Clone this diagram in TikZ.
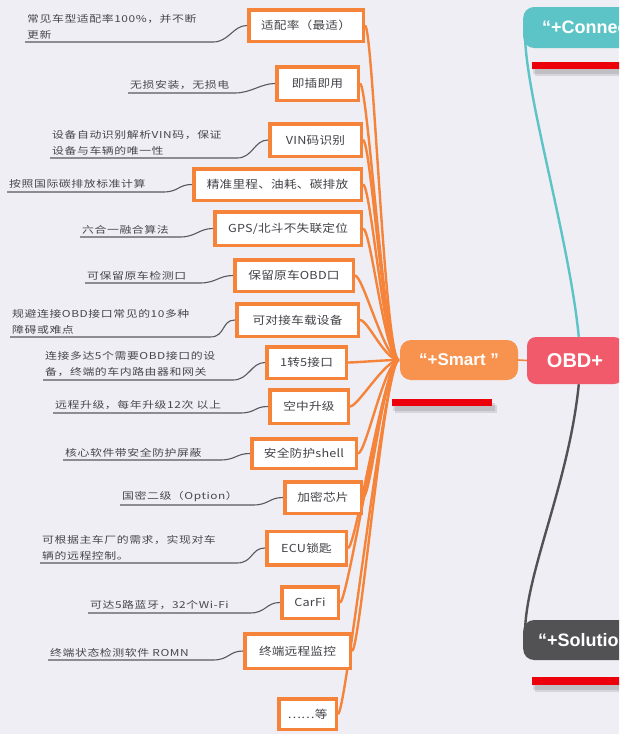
\documentclass[tikz,border=0pt]{standalone}
\usepackage{fontspec}
\setsansfont{Liberation Sans}
\newfontfamily\cjkbox[FakeStretch=1.15,LetterSpace=2]{Noto Sans CJK SC}
\newfontfamily\cjkdesc[FakeStretch=1.25,LetterSpace=6]{Noto Sans CJK SC}
\newfontfamily\ttlfont{Liberation Sans}
\definecolor{bgc}{RGB}{238,238,244}
\definecolor{obor}{RGB}{245,132,58}
\definecolor{smartc}{RGB}{247,147,78}
\definecolor{obdc}{RGB}{240,90,106}
\definecolor{tealc}{RGB}{92,196,198}
\definecolor{darkc}{RGB}{82,82,84}
\definecolor{redbar}{RGB}{236,0,12}
\definecolor{desctxt}{RGB}{70,70,76}
\definecolor{boxtxt}{RGB}{66,66,72}
\definecolor{ulc}{RGB}{88,88,96}
\pgfdeclarelayer{back}
\pgfdeclarelayer{conn}
\pgfsetlayers{back,conn,main}
\tikzset{
  box/.style={draw=obor, line width=3.5pt, fill=white, text=boxtxt, inner sep=0pt,
    font=\cjkbox\fontsize{11}{13}\selectfont},
  desc/.style={anchor=south west, align=left, text=desctxt, inner xsep=2pt, inner ysep=3pt,
    font=\cjkdesc\fontsize{9.5}{16}\selectfont},
  uline/.style={draw=ulc, line width=1.1pt},
  oline/.style={draw=obor, line width=2.4pt},
  ttl/.style={text=white, inner sep=0pt, font=\ttlfont\bfseries},
  rbar/.style={fill=redbar, draw=none},
  rshadow/.style={fill=black, opacity=0.10, draw=none}
}
\begin{document}
\begin{tikzpicture}[x=1pt,y=-1pt]
\useasboundingbox (0,0) rectangle (619,734);
\clip (0,0) rectangle (619,734);
\begin{pgfonlayer}{back}
\fill[bgc] (0,0) rectangle (619,734);
\end{pgfonlayer}

% ---- option boxes
\node[box, minimum width=114.5, minimum height=31.5] (b1) at (306,25.5) {适配率（最适）};
\node[box, minimum width=81.5, minimum height=33.5] (b2) at (317.5,83.5) {即插即用};
\node[box, minimum width=91.5, minimum height=32.5] (b3) at (315.5,140) {VIN码识别};
\node[box, minimum width=167.5, minimum height=31.5] (b4) at (277.5,184.5) {精准里程、油耗、碳排放};
\node[box, minimum width=146.5, minimum height=33.5] (b5) at (288,228.5) {GPS/北斗不失联定位};
\node[box, minimum width=118.5, minimum height=31.5] (b6) at (294,275.5) {保留原车OBD口};
\node[box, minimum width=121.5, minimum height=32.5] (b7) at (297.5,320) {可对接车载设备};
\node[box, minimum width=79.5, minimum height=31.5] (b8) at (306.5,362.5) {1转5接口};
\node[box, minimum width=78.5, minimum height=33.5] (b9) at (309,406.5) {空中升级};
\node[box, minimum width=104.5, minimum height=29.5] (b10) at (304,453.5) {安全防护shell};
\node[box, minimum width=76.5, minimum height=31.5] (b11) at (323,497.5) {加密芯片};
\node[box, minimum width=79.5, minimum height=33.5] (b12) at (306.5,548) {ECU锁匙};
\node[box, minimum width=56.5, minimum height=31.5] (b13) at (310,602.5) {CarFi};
\node[box, minimum width=105.5, minimum height=34.5] (b14) at (297.5,651) {终端远程监控};
\node[box, minimum width=57.5, minimum height=30.5] (b15) at (307.5,714) {……等};

% ---- descriptions
\node[desc] (d1) at (25,42) {常见车型适配率100\%，并不断\\更新};
\node[desc] (d2) at (128,93) {无损安装，无损电};
\node[desc] (d3) at (50,158) {设备自动识别解析VIN码，保证\\设备与车辆的唯一性};
\node[desc] (d4) at (7,192) {按照国际碳排放标准计算};
\node[desc] (d5) at (80,237) {六合一融合算法};
\node[desc] (d6) at (85,283) {可保留原车检测口};
\node[desc] (d7) at (10,337) {规避连接OBD接口常见的10多种\\障碍或难点};
\node[desc] (d8) at (43,380) {连接多达5个需要OBD接口的设\\备，终端的车内路由器和网关};
\node[desc] (d9) at (53,413) {远程升级，每年升级12次 以上};
\node[desc] (d10) at (63,460) {核心软件带安全防护屏蔽};
\node[desc] (d11) at (120,505) {国密二级（Option）};
\node[desc] (d12) at (40,563) {可根据主车厂的需求，实现对车\\辆的远程控制。};
\node[desc] (d13) at (88,613) {可达5路蓝牙，32个Wi-Fi};
\node[desc] (d14) at (48,660) {终端状态检测软件 ROMN};

\coordinate (u1) at (213,42);
\coordinate (u2) at (235,93);
\coordinate (u3) at (237,158);
\coordinate (u4) at (163,192);
\coordinate (u5) at (180,237);
\coordinate (u6) at (200,283);
\coordinate (u7) at (210,337);
\coordinate (u8) at (233,380);
\coordinate (u9) at (240,413);
\coordinate (u10) at (220,460);
\coordinate (u11) at (253,505);
\coordinate (u12) at (237,563);
\coordinate (u13) at (250,613);
\coordinate (u14) at (213,660);

% ---- main topics
\node[ttl, fill=smartc, rounded corners=11pt, minimum width=118, minimum height=40,
  font=\ttlfont\bfseries\fontsize{17}{19}\selectfont] (smart) at (459,360) {“+Smart ”};
\node[ttl, fill=obdc, rounded corners=9pt, minimum width=96, minimum height=47,
  font=\ttlfont\bfseries\fontsize{20}{22}\selectfont] (obd) at (575,360.5) {OBD+};
\node[ttl, fill=tealc, rounded corners=11pt, anchor=west, inner xsep=19pt, minimum height=41,
  font=\ttlfont\bfseries\fontsize{18}{20}\selectfont] (con) at (523,27.5) {“+Connect”};
\node[ttl, fill=darkc, rounded corners=11pt, anchor=west, inner xsep=15pt, minimum height=40,
  font=\ttlfont\bfseries\fontsize{18}{20}\selectfont] (sol) at (523,640) {“+Solution”};

% ---- red bars with shadows
\fill[rshadow] (393,403) rectangle (495,411);
\fill[rshadow] (395,405) rectangle (497,413);
\fill[rbar] (392,399) rectangle (492,406);
\fill[rshadow] (533,66) rectangle (640,74);
\fill[rshadow] (535,68) rectangle (640,76);
\fill[rbar] (532,62) rectangle (640,69);
\fill[rshadow] (533,681) rectangle (640,690);
\fill[rshadow] (535,683) rectangle (640,692);
\fill[rbar] (532,677) rectangle (640,685);

% ---- connectors
\begin{pgfonlayer}{conn}
\foreach \i in {1,...,14}{
  \draw[uline] (d\i.south west) -- (u\i) .. controls +(16,0) and +(-14,0) .. (b\i.west);
}
\foreach \i in {1,...,15}{
  \draw[oline] ([xshift=-1pt]smart.west) .. controls +(-14,0) and +(8,0) .. (b\i.east);
}
\draw[draw=obor, line width=1.6pt] (smart.east) -- (obd.west);
\draw[draw=tealc, line width=2.4pt] ([xshift=52pt]obd.north west)
  .. controls +(-10,-100) and +(0,60) .. ([xshift=2pt,yshift=-6pt]con.west);
\draw[draw=darkc, line width=2.4pt] ([xshift=52pt]obd.south west)
  .. controls +(-10,100) and +(0,-60) .. ([xshift=2pt,yshift=6pt]sol.west);
\end{pgfonlayer}
\end{tikzpicture}
\end{document}
